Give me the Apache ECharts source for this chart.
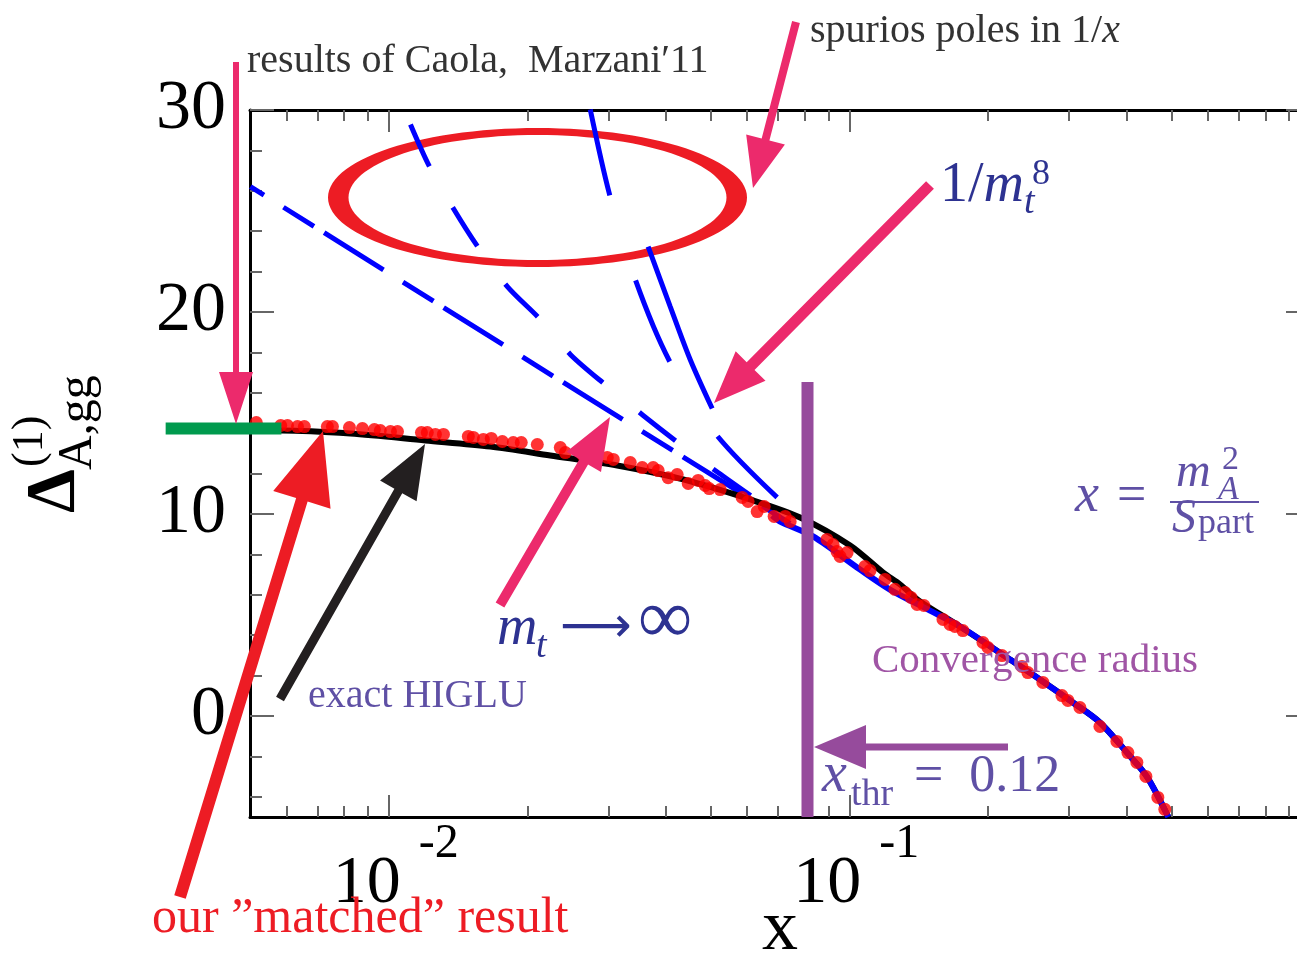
<!DOCTYPE html>
<html>
<head>
<meta charset="utf-8">
<script src="https://cdn.jsdelivr.net/npm/echarts@6/dist/echarts.min.js"></script>
<style>
  html, body { margin: 0; padding: 0; background: #ffffff; }
  #chart { width: 1297px; height: 960px; }
</style>
</head>
<body>
<div id="chart"></div>
<script>
// ---------------- data ----------------
// x-axis ticks (log scale)
const xMajorTicks = [0.01, 0.1];
const xTickExponents = ['-2', '-1'];
const xMinorTicks = [0.006, 0.007, 0.008, 0.009,
  0.02, 0.03, 0.04, 0.05, 0.06, 0.07, 0.08, 0.09,
  0.2, 0.3, 0.4, 0.5, 0.6, 0.7, 0.8, 0.9];
// y-axis ticks
const yMajorTicks = [0, 10, 20, 30];
const yTickLabels = ['0', '10', '20', '30'];
const yMinorTicks = [-4, -2, 2, 4, 6, 8, 12, 14, 16, 18, 22, 24, 26, 28];

// exact HIGLU result
const xExact = [0.005, 0.00583, 0.00826, 0.01202, 0.01662, 0.02243, 0.03134, 0.04358, 0.0609, 0.07819,
  0.1004, 0.1184, 0.1289, 0.1424, 0.1739, 0.2198, 0.2592, 0.3057, 0.3499, 0.4005, 0.4425, 0.4925];
const yExact = [14.13, 14.13, 13.98, 13.64, 13.34, 12.90, 12.40, 11.71, 10.72, 9.83,
  8.44, 7.10, 6.51, 5.67, 4.43, 2.90, 1.81, 0.67, -0.32, -1.81, -3.00, -5.00];

// matched result (points)
const xMatched = [0.00516, 0.00583, 0.00603, 0.00634, 0.00656, 0.00736, 0.00755, 0.00822, 0.00877, 0.00931,
  0.00959, 0.01009, 0.01045, 0.01178, 0.01213, 0.01263, 0.01315, 0.01489, 0.01527, 0.01605,
  0.01670, 0.01765, 0.01864, 0.01940, 0.02102, 0.02358, 0.02418, 0.02645, 0.02982, 0.03073,
  0.03345, 0.03551, 0.03751, 0.03846, 0.04043, 0.04229, 0.04469, 0.04698, 0.04865, 0.04963,
  0.05244, 0.05851, 0.06028, 0.06309, 0.06534, 0.06867, 0.07255, 0.07439, 0.08944, 0.09218,
  0.09404, 0.09546, 0.09888, 0.1081, 0.1109, 0.1195, 0.1256, 0.1321, 0.1361, 0.1403,
  0.1452, 0.1597, 0.1654, 0.1695, 0.1764, 0.1950, 0.1999, 0.2144, 0.2369, 0.2441,
  0.2631, 0.2894, 0.2981, 0.3166, 0.3499, 0.3809, 0.4024, 0.4209, 0.4403, 0.4674, 0.4840];
const yMatched = [14.53, 14.38, 14.38, 14.33, 14.33, 14.33, 14.33, 14.28, 14.23, 14.18,
  14.13, 14.08, 14.08, 14.03, 14.03, 13.94, 13.94, 13.84, 13.79, 13.69,
  13.74, 13.59, 13.54, 13.54, 13.44, 13.29, 13.04, 12.90, 12.80, 12.70,
  12.55, 12.30, 12.30, 12.15, 11.80, 11.95, 11.51, 11.66, 11.41, 11.26,
  11.21, 10.82, 10.62, 10.12, 10.37, 9.88, 9.88, 9.63, 8.74, 8.49,
  8.14, 7.90, 8.09, 7.40, 7.20, 6.76, 6.27, 6.11, 5.87, 5.52,
  5.47, 4.78, 4.53, 4.43, 4.23, 3.64, 3.39, 2.99, 2.45, 2.15,
  1.66, 1.01, 0.77, 0.42, -0.52, -1.26, -1.81, -2.30, -2.99, -4.03, -4.62];

// 1/m_t expansion, highest order (solid blue under the points)
const xExpansion = [0.0680, 0.07075, 0.08343, 0.1055, 0.1225, 0.1497, 0.1739, 0.2198, 0.2592, 0.3057, 0.3499, 0.4005, 0.4425, 0.4925];
const yExpansion = [9.93, 9.63, 8.89, 7.25, 6.26, 5.22, 4.43, 2.90, 1.81, 0.67, -0.32, -1.81, -3.00, -5.00];

// m_t -> infinity limit
const xHeavyTop = [0.00501, 0.02394, 0.07439];
const yHeavyTop = [26.21, 16.51, 9.53];

// truncated 1/m_t series (lower orders)
const xOrderA = [0.01115, 0.01226, 0.01382, 0.01565, 0.01810, 0.02134, 0.02479, 0.02967, 0.03569, 0.04272, 0.05188, 0.06184];
const yOrderA = [29.28, 27.20, 25.12, 23.19, 21.26, 19.63, 17.90, 16.36, 14.88, 13.49, 12.05, 10.82];
const xOrderB = [0.02739, 0.03012, 0.03430, 0.04064, 0.05138, 0.06970];
const yOrderB = [30.02, 25.87, 21.61, 17.60, 13.94, 10.82];
const xOrder8 = [0.03658, 0.04085, 0.04513, 0.05038];
const yOrder8 = [23.24, 20.27, 17.65, 15.22];

// small-x limit (Caola, Marzani '11)
const xSmallX = [0.00328, 0.00585];
const ySmallX = [14.23, 14.23];

// ---------------- helpers ----------------
const SERIF = 'Liberation Serif';
const zip = (xs, ys) => xs.map((x, i) => [x, ys[i]]);

function xAxisDef(position, ticks, len, showLine, showLabels) {
  return {
    type: 'log', logBase: 10, min: 0.005, max: 1, position: position,
    axisLine: { show: showLine, onZero: false, lineStyle: { color: '#000', width: 3 } },
    axisTick: { show: true, inside: true, length: len, customValues: ticks,
      lineStyle: { color: '#666', width: 2 } },
    axisLabel: showLabels ? {
      show: true, customValues: xMajorTicks, margin: 12,
      // exponent on the first line, shifted right; mantissa on the second line
      formatter: function (v) {
        const i = xMajorTicks.findIndex(t => Math.abs(Math.log10(t) - Math.log10(v)) < 1e-6);
        return i < 0 ? '' : '{s|' + xTickExponents[i] + '}\n{b|10}';
      },
      rich: {
        s: { fontSize: 48, fontFamily: SERIF, color: '#000', lineHeight: 30,
             padding: [0, 0, 0, 100] },
        b: { fontSize: 68, fontFamily: SERIF, color: '#000', lineHeight: 50,
             padding: [0, 44, 0, 0] }
      }
    } : { show: false },
    splitLine: { show: false }, minorTick: { show: false }, minorSplitLine: { show: false }
  };
}

function yAxisDef(position, ticks, len, showLine, showLabels) {
  return {
    type: 'value', min: -5, max: 30, interval: 5, position: position,
    axisLine: { show: showLine, onZero: false, lineStyle: { color: '#000', width: 3 } },
    axisTick: { show: true, inside: true, length: len, customValues: ticks,
      lineStyle: { color: '#666', width: 2 } },
    axisLabel: showLabels ? {
      show: true, customValues: yMajorTicks, margin: 24,
      fontSize: 70, fontFamily: SERIF, color: '#000',
      formatter: function (v) {
        const i = yMajorTicks.indexOf(v);
        return i < 0 ? '' : yTickLabels[i];
      }
    } : { show: false },
    splitLine: { show: false }, minorTick: { show: false }, minorSplitLine: { show: false }
  };
}

function arrowPoints(a) {
  const tx = a.tail[0], ty = a.tail[1], hx = a.tip[0], hy = a.tip[1];
  const dx = hx - tx, dy = hy - ty, L = Math.hypot(dx, dy);
  const ux = dx / L, uy = dy / L, nx = -uy, ny = ux;
  const bx = hx - ux * a.headLen, by = hy - uy * a.headLen;
  const w = a.width / 2, hw = a.headWidth / 2;
  return [[tx + nx * w, ty + ny * w], [bx + nx * w, by + ny * w], [bx + nx * hw, by + ny * hw],
          [hx, hy], [bx - nx * hw, by - ny * hw], [bx - nx * w, by - ny * w], [tx - nx * w, ty - ny * w]];
}

function ringPoints(cx, cy, rxO, ryO, rxI, ryI) {
  const pts = [], n = 120;
  for (let k = 0; k <= n; k++) {
    const t = 2 * Math.PI * k / n;
    pts.push([cx + rxO * Math.cos(t), cy + ryO * Math.sin(t)]);
  }
  for (let k = n; k >= 0; k--) {
    const t = 2 * Math.PI * k / n;
    pts.push([cx + rxI * Math.cos(t), cy + ryI * Math.sin(t)]);
  }
  return pts;
}

// text placed by its baseline
function label(text, x, baseline, size, color, extra) {
  return {
    type: 'text', x: x, y: baseline - 0.34 * size, z: 100,
    style: Object.assign({ text: text, fontSize: size, fontFamily: SERIF, fill: color,
      align: 'left', verticalAlign: 'middle' }, extra || {})
  };
}
function rotatedLabel(text, baselineX, startY, size, extra) {
  return {
    type: 'text', x: baselineX - 0.34 * size, y: startY, rotation: Math.PI / 2, z: 100,
    style: Object.assign({ text: text, fontSize: size, fontFamily: SERIF, fill: '#000',
      align: 'left', verticalAlign: 'middle' }, extra || {})
  };
}

// ---------------- annotations (page layout) ----------------
const PINK = '#EC2A6C', RED = '#ED1C24', PURPLE = '#964B9C', INK = '#2D3291',
      VIOLET = '#5F50A5', LILAC = '#A055A5', GREY = '#333333';
const arrows = [
  { tail: [236, 62], tip: [236, 424], width: 6, headLen: 52, headWidth: 34, color: PINK },
  { tail: [796, 22], tip: [753, 188], width: 8, headLen: 50, headWidth: 40, color: PINK },
  { tail: [930, 185], tip: [714, 403], width: 11, headLen: 52, headWidth: 42, color: PINK },
  { tail: [500, 605], tip: [610, 417], width: 10, headLen: 52, headWidth: 40, color: PINK },
  { tail: [280, 699], tip: [425, 444], width: 9, headLen: 54, headWidth: 42, color: '#231F20' },
  { tail: [180, 897], tip: [323, 431], width: 12, headLen: 72, headWidth: 60, color: RED },
  { tail: [1008, 747], tip: [814, 747], width: 7, headLen: 52, headWidth: 44, color: PURPLE }
];

const graphics = [];
graphics.push({ type: 'polygon', z: 1, shape: { points: ringPoints(537.5, 197.5, 209.5, 69.5, 189, 62.5) },
  style: { fill: RED } });
graphics.push({ type: 'line', z: 100, shape: { x1: 807.5, y1: 382, x2: 807.5, y2: 817 },
  style: { stroke: PURPLE, lineWidth: 12 } });
arrows.forEach(a => graphics.push({ type: 'polygon', z: 101, shape: { points: arrowPoints(a) },
  style: { fill: a.color } }));

graphics.push(label('results of Caola,  Marzani\u203211', 247, 75, 40, GREY));
graphics.push(label('{r|spurios poles in 1/}{i|x}', 810, 45, 40, GREY,
  { rich: { r: { fontSize: 40, fontFamily: SERIF, fill: GREY }, i: { fontSize: 40, fontFamily: SERIF, fill: GREY, fontStyle: 'italic' } } }));
// 1/m_t^8
graphics.push(label('{r|1/}{i|m}', 940, 205, 56, INK,
  { rich: { r: { fontSize: 56, fontFamily: SERIF, fill: INK }, i: { fontSize: 56, fontFamily: SERIF, fill: INK, fontStyle: 'italic' } } }));
graphics.push(label('t', 1024, 216, 38, INK, { fontStyle: 'italic' }));
graphics.push(label('8', 1032, 187, 36, INK));
// m_t -> infinity
graphics.push(label('m', 497, 648, 56, INK, { fontStyle: 'italic' }));
graphics.push(label('t', 536, 660, 38, INK, { fontStyle: 'italic' }));
graphics.push(label('\u27F6', 560, 646, 50, INK, { fontFamily: 'DejaVu Sans' }));
graphics.push(label('\u221E', 638, 648, 76, INK));
graphics.push(label('exact HIGLU', 308, 710, 40, VIOLET));
graphics.push(label('Convergence radius', 872, 675, 41, LILAC));
// x_thr = 0.12
graphics.push(label('x', 822, 795, 56, VIOLET, { fontStyle: 'italic' }));
graphics.push(label('thr', 851, 808, 38, VIOLET));
graphics.push(label('=  0.12', 914, 795, 52, VIOLET));
// x = m_A^2 / S_part
graphics.push(label('x', 1075, 515, 54, VIOLET, { fontStyle: 'italic' }));
graphics.push(label('=', 1117, 515, 52, VIOLET));
graphics.push(label('m', 1176, 490, 48, VIOLET, { fontStyle: 'italic' }));
graphics.push(label('A', 1218, 502, 34, VIOLET, { fontStyle: 'italic' }));
graphics.push(label('2', 1222, 472, 34, VIOLET));
graphics.push({ type: 'line', z: 100, shape: { x1: 1170, y1: 502, x2: 1259, y2: 502 },
  style: { stroke: VIOLET, lineWidth: 2 } });
graphics.push(label('S', 1172, 536, 48, VIOLET, { fontStyle: 'italic' }));
graphics.push(label('part', 1198, 536, 36, VIOLET));
graphics.push(label('our \u201Dmatched\u201D result', 152, 936, 50, RED));
// axis titles
graphics.push(label('x', 780, 955, 72, '#000', { align: 'center' }));
graphics.push(rotatedLabel('\u0394', 80, 513, 70, { fontWeight: 'bold' }));
graphics.push(rotatedLabel('(1)', 45, 467, 44));
graphics.push(rotatedLabel('A,gg', 95, 470, 48));

// ---------------- chart ----------------
const chart = echarts.init(document.getElementById('chart'), null, { renderer: 'canvas' });
const BLUE = '#0000FF';
const lineSeries = (name, xs, ys, color, width, type, extra) => Object.assign({
  name: name, type: 'line', data: zip(xs, ys), showSymbol: false, symbol: 'none', smooth: 0.3,
  lineStyle: { color: color, width: width, type: type || 'solid' }, z: 3, silent: true
}, extra || {});

chart.setOption({
  animation: false,
  backgroundColor: '#ffffff',
  grid: { left: 250, top: 110, width: 1060, height: 707, containLabel: false, outerBoundsMode: 'none' },
  xAxis: [
    xAxisDef('bottom', xMajorTicks, 22, true, true),
    xAxisDef('bottom', xMinorTicks, 11, false, false),
    xAxisDef('top', xMajorTicks, 22, true, false),
    xAxisDef('top', xMinorTicks, 11, false, false)
  ],
  yAxis: [
    yAxisDef('left', yMajorTicks, 24, true, true),
    yAxisDef('left', yMinorTicks, 12, false, false),
    yAxisDef('right', yMajorTicks, 24, true, false),
    yAxisDef('right', yMinorTicks, 12, false, false)
  ],
  series: [
    lineSeries('m_t -> inf', xHeavyTop, yHeavyTop, BLUE, 5, [70, 23, 36, 12], { smooth: false,
      lineStyle: { color: BLUE, width: 5, type: [70, 23, 36, 12], dashOffset: 54 } }),
    lineSeries('order A', xOrderA, yOrderA, BLUE, 5, [46, 47]),
    lineSeries('order B', xOrderB, yOrderB, BLUE, 5, [88, 89]),
    lineSeries('1/m_t^8', xOrder8, yOrder8, BLUE, 5, 'solid'),
    lineSeries('exact HIGLU', xExact, yExact, '#000000', 6, 'solid', { z: 4 }),
    lineSeries('expansion', xExpansion, yExpansion, BLUE, 6, 'solid', { z: 5 }),
    {
      name: 'matched', type: 'scatter', data: zip(xMatched, yMatched), symbol: 'circle',
      symbolSize: 13, itemStyle: { color: '#FF0000' }, z: 6, silent: true
    },
    {
      // small-x limit drawn as a thick bar that runs past the left axis
      name: 'Caola-Marzani', type: 'custom', clip: false, z: 20, silent: true,
      data: [[xSmallX[0], ySmallX[0], xSmallX[1], ySmallX[1]]],
      renderItem: function (params, api) {
        const p0 = api.coord([api.value(0), api.value(1)]);
        const p1 = api.coord([api.value(2), api.value(3)]);
        return { type: 'line', shape: { x1: p0[0], y1: p0[1], x2: p1[0], y2: p1[1] },
          style: { stroke: '#009A4E', lineWidth: 12 } };
      }
    }
  ],
  graphic: { elements: graphics }
});
</script>
</body>
</html>
